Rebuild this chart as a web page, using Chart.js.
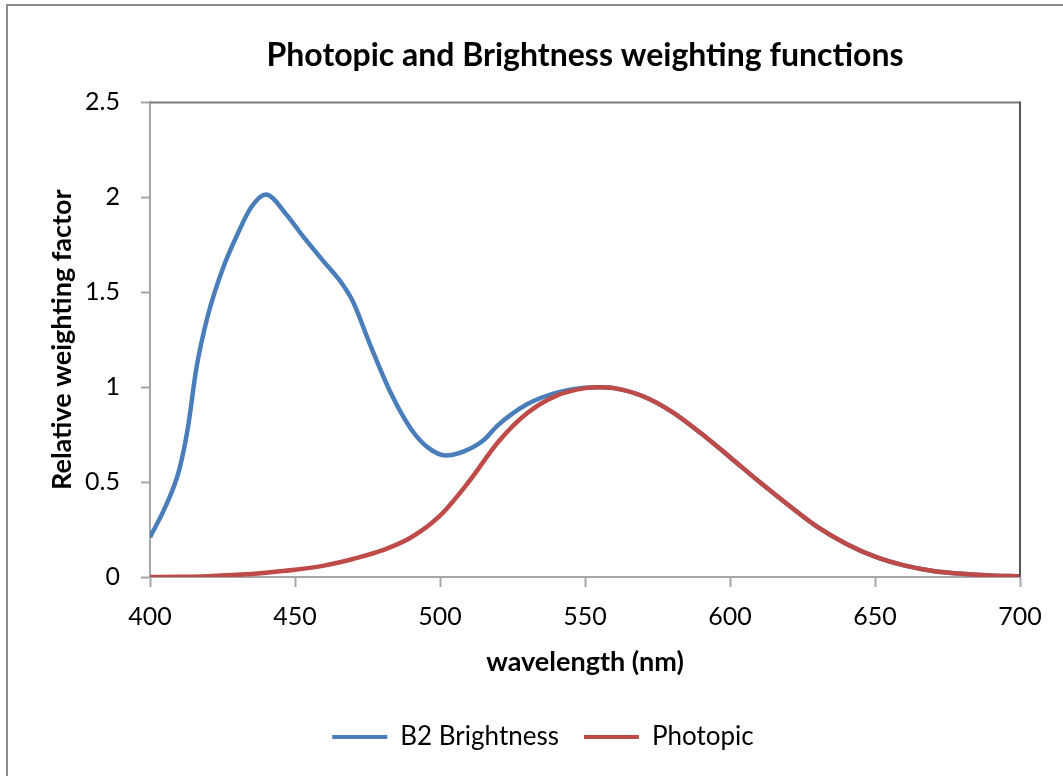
<!DOCTYPE html>
<html>
<head>
<meta charset="utf-8">
<script src="https://cdn.jsdelivr.net/npm/chart.js@4.4.1/dist/chart.umd.min.js"></script>
<style>
  html, body { margin: 0; padding: 0; background: #fff; overflow: hidden; }
  #frame {
    position: absolute; left: 6px; top: 4px;
    width: 1100px; height: 820px;
    border: 2px solid #8c8c8c;
  }
  #weights { position: absolute; left: 0; top: 0; }
</style>
</head>
<body>
<div id="frame"></div>
<canvas id="weights" width="1063" height="776"></canvas>
<script>
// B2 brightness weighting (wavelength in nm)
const b2Wavelength = [400, 405, 410, 413, 416, 420, 425, 430, 435, 440, 447, 453, 460, 466, 470, 476, 483, 490, 496, 502, 508, 515, 520, 530, 540, 550, 555, 560, 570, 580, 590, 600, 610, 620, 630, 640, 650, 660, 670, 680, 690, 700];
const b2Values = [0.21, 0.36, 0.56, 0.78, 1.10, 1.38, 1.62, 1.80, 1.95, 2.015, 1.91, 1.79, 1.66, 1.55, 1.45, 1.22, 0.97, 0.78, 0.68, 0.64, 0.66, 0.72, 0.80, 0.91, 0.97, 0.997, 1.0, 0.995, 0.952, 0.870, 0.757, 0.631, 0.503, 0.381, 0.265, 0.175, 0.107, 0.061, 0.032, 0.017, 0.008, 0.004];

// photopic V(lambda)
const photopicWavelength = [400, 410, 420, 430, 440, 450, 460, 470, 480, 490, 500, 510, 520, 530, 540, 550, 555, 560, 570, 580, 590, 600, 610, 620, 630, 640, 650, 660, 670, 680, 690, 700];
const photopicValues = [0.0004, 0.0012, 0.004, 0.0116, 0.023, 0.038, 0.06, 0.095, 0.14, 0.208, 0.323, 0.503, 0.71, 0.862, 0.954, 0.995, 1.0, 0.995, 0.952, 0.870, 0.757, 0.631, 0.503, 0.381, 0.265, 0.175, 0.107, 0.061, 0.032, 0.017, 0.0082, 0.0041];

const xTicks = [400, 450, 500, 550, 600, 650, 700];
const yTicks = [0, 0.5, 1, 1.5, 2, 2.5];

const BLUE = "#4a7ebb";
const RED = "#be4b48";
const FONT = "Lato";

const toPoints = (xs, ys) => xs.map((x, i) => ({ x: x, y: ys[i] }));

// top and right edges of the plot box
const plotFrame = {
    id: "plotFrame",
    afterDatasetsDraw(chart) {
        const a = chart.chartArea;
        const ctx = chart.ctx;
        ctx.save();
        ctx.lineWidth = 2;
        ctx.strokeStyle = "#7a7a7a";
        ctx.beginPath();
        ctx.moveTo(a.left, a.top);
        ctx.lineTo(a.right, a.top);
        ctx.stroke();
        ctx.strokeStyle = "#555555";
        ctx.beginPath();
        ctx.moveTo(a.right, a.top - 1);
        ctx.lineTo(a.right, a.bottom);
        ctx.stroke();
        ctx.restore();
    }
};

new Chart(document.getElementById("weights"), {
    type: "line",
    data: {
        datasets: [
            {
                label: "B2 Brightness",
                data: toPoints(b2Wavelength, b2Values),
                borderColor: BLUE,
                backgroundColor: BLUE,
                borderWidth: 4.5,
                pointRadius: 0,
                cubicInterpolationMode: "monotone",
                order: 2
            },
            {
                label: "Photopic",
                data: toPoints(photopicWavelength, photopicValues),
                borderColor: RED,
                backgroundColor: RED,
                borderWidth: 4.5,
                pointRadius: 0,
                cubicInterpolationMode: "monotone",
                order: 1
            }
        ]
    },
    options: {
        responsive: false,
        animation: false,
        layout: { padding: { left: 66, right: 43, top: 0, bottom: 16 } },
        plugins: {
            tooltip: { enabled: false },
            title: {
                display: true,
                text: "Photopic and Brightness weighting functions",
                fullSize: false,
                color: "#000",
                font: { family: FONT, size: 32, weight: "bold" },
                padding: { top: 36, bottom: 28 }
            },
            legend: {
                position: "bottom",
                labels: {
                    color: "#000",
                    font: { family: FONT, size: 26 },
                    boxWidth: 55,
                    boxHeight: 4,
                    padding: 25,
                    sort: (a, b) => a.datasetIndex - b.datasetIndex,
                    generateLabels(chart) {
                        const items = Chart.defaults.plugins.legend.labels.generateLabels(chart);
                        items.forEach(it => { it.lineWidth = 0; it.fillStyle = it.strokeStyle; });
                        return items;
                    }
                }
            }
        },
        scales: {
            x: {
                type: "linear",
                min: 400,
                max: 700,
                afterBuildTicks(scale) { scale.ticks = xTicks.map(v => ({ value: v })); },
                afterFit(scale) { scale.height = 122; },
                grid: { drawOnChartArea: false, drawTicks: true, tickLength: 10, tickColor: "#a6a6a6", tickWidth: 2 },
                border: { color: "#a6a6a6", width: 2 },
                ticks: { color: "#000", font: { family: FONT, size: 25 }, padding: 15, maxRotation: 0 },
                title: {
                    display: true,
                    text: "wavelength (nm)",
                    color: "#000",
                    font: { family: FONT, size: 27, weight: "bold" },
                    padding: { top: 0, bottom: 21 }
                }
            },
            y: {
                min: 0,
                max: 2.5,
                afterBuildTicks(scale) { scale.ticks = yTicks.map(v => ({ value: v })); },
                afterFit(scale) { scale.width = 84; },
                grid: { drawOnChartArea: false, drawTicks: true, tickLength: 9, tickColor: "#a6a6a6", tickWidth: 2 },
                border: { color: "#a6a6a6", width: 2 },
                ticks: { color: "#000", font: { family: FONT, size: 25 }, padding: 21, callback: v => String(v) },
                title: {
                    display: true,
                    text: "Relative weighting factor",
                    color: "#000",
                    font: { family: FONT, size: 27, weight: "bold" },
                    padding: { top: -20, bottom: 0 }
                }
            }
        }
    },
    plugins: [plotFrame]
});
</script>
</body>
</html>
